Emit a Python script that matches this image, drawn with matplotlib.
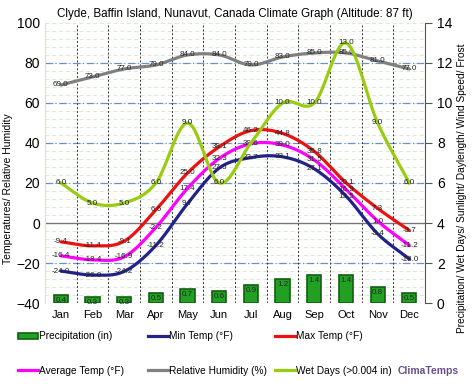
import numpy as np
import matplotlib
matplotlib.use("Agg")
import matplotlib.pyplot as plt
from matplotlib.lines import Line2D
from matplotlib.patches import Patch

months = ['Jan', 'Feb', 'Mar', 'Apr', 'May', 'Jun', 'Jul', 'Aug', 'Sep', 'Oct', 'Nov', 'Dec']
max_temp = [-9.4, -11.4, -9.1, 6.6, 25.0, 38.1, 46.2, 44.8, 35.8, 20.1, 7.3, -3.7]
avg_temp = [-16.4, -18.4, -16.9, -2.2, 17.4, 32.3, 39.6, 39.0, 31.5, 16.9, 1.0, -11.2]
min_temp = [-24.0, -26.0, -24.2, -11.2, 9.7, 27.5, 32.7, 33.1, 27.1, 13.5, -5.4, -18.0]
humidity = [69.0, 73.0, 77.0, 79.0, 84.0, 84.0, 79.0, 83.0, 85.0, 85.0, 81.0, 77.0]
wet_days = [6.0, 5.0, 5.0, 6.0, 9.0, 6.0, 8.0, 10.0, 10.0, 13.0, 9.0, 6.0]
precip = [0.4, 0.3, 0.3, 0.5, 0.7, 0.6, 0.9, 1.2, 1.4, 1.4, 0.8, 0.5]


def smooth(x, y, n=20):
    # catmull-rom spline through the points, just for drawing
    x = np.asarray(x, float)
    y = np.asarray(y, float)
    px = np.concatenate([[2 * x[0] - x[1]], x, [2 * x[-1] - x[-2]]])
    py = np.concatenate([[2 * y[0] - y[1]], y, [2 * y[-1] - y[-2]]])
    xs, ys = [], []
    t = np.linspace(0, 1, n, endpoint=False)
    for i in range(1, len(px) - 2):
        p0, p1, p2, p3 = py[i - 1], py[i], py[i + 1], py[i + 2]
        a = 2 * p1
        b = p2 - p0
        c = 2 * p0 - 5 * p1 + 4 * p2 - p3
        d = -p0 + 3 * p1 - 3 * p2 + p3
        ys.extend(0.5 * (a + b * t + c * t ** 2 + d * t ** 3))
        xs.extend(px[i] + (px[i + 1] - px[i]) * t)
    xs.append(x[-1])
    ys.append(y[-1])
    return np.array(xs), np.array(ys)


plt.rcParams['font.family'] = ['Liberation Sans', 'DejaVu Sans']

fig = plt.figure(figsize=(4.74, 3.89), dpi=100)
ax = fig.add_axes([0.095, 0.221, 0.802, 0.72])
ax2 = ax.twinx()

x = np.arange(12)

# grid
for v in np.arange(-40, 101, 4):
    ax.axhline(v, color='#d8ecd0', lw=0.7, ls=(0, (4, 3)), zorder=0)
for v in [-20, 20, 40, 60, 80]:
    ax.axhline(v, color='#6f8fc8', lw=0.9, ls=(0, (6, 2, 1, 2)), zorder=1)
ax.axhline(0, color='#777777', lw=1.0, zorder=1)
for b in np.arange(0.5, 11.5, 1):
    ax.axvline(b, color='#333333', lw=0.7, ls=(0, (2, 2)), zorder=1)

ax.set_xlim(-0.5, 11.5)
ax.set_ylim(-40, 100)
ax2.set_ylim(0, 14)

# precipitation bars on the right scale
ax2.bar(x, precip, width=0.45, color='#22a022', edgecolor='#106010', lw=1.2, zorder=3)
for xi, p in zip(x, precip):
    ax2.text(xi, p - 0.12, f'{p:.1f}', ha='center', va='top', fontsize=5.8, color='#222222', zorder=5)

series = [
    (humidity, '#808080'),
    (max_temp, '#ee1111'),
    (avg_temp, '#ff00ff'),
    (min_temp, '#22228a'),
]
for vals, col in series:
    sx, sy = smooth(x, vals)
    ax.plot(sx, sy, color=col, lw=2.3, zorder=4, solid_capstyle='round')
    for xi, v in zip(x, vals):
        ax.text(xi, v, f'{v:.1f}', ha='center', va='center', fontsize=5.8, color='#222222', zorder=6)

sx, sy = smooth(x, wet_days)
ax2.plot(sx, sy, color='#99cc11', lw=2.3, zorder=4)
for xi, v in zip(x, wet_days):
    if xi == 6:
        continue
    ax2.text(xi, v, f'{v:.1f}', ha='center', va='center', fontsize=5.8, color='#222222', zorder=6)

ax.set_xticks(x)
ax.set_xticklabels(months, fontsize=8)
ax.set_yticks(np.arange(-40, 101, 20))
ax.tick_params(axis='y', labelsize=10, length=0)
ax.tick_params(axis='x', length=0, pad=5)
ax2.set_yticks(np.arange(0, 15, 2))
ax2.tick_params(axis='y', labelsize=10, length=5, color='#555555', direction='out')

for s in ['top', 'bottom', 'left']:
    ax.spines[s].set_visible(False)
    ax2.spines[s].set_visible(False)
ax.spines['left'].set_visible(True)
ax.spines['left'].set_color('#cfe9c8')
ax.spines['right'].set_visible(False)
ax2.spines['right'].set_color('#555555')

ax.set_ylabel('Temperatures/ Relative Humidity', fontsize=7.5)
ax.yaxis.set_label_coords(-0.085, 0.41)
ax2.set_ylabel('Precipitation/ Wet Days/ Sunlight/ Daylength/ Wind Speed/ Frost', fontsize=7.3)
ax2.yaxis.set_label_coords(1.085, 0.41)
ax.set_title('Clyde, Baffin Island, Nunavut, Canada Climate Graph (Altitude: 87 ft)', fontsize=8.4, pad=4)

# one legend per column so the columns sit where the reference has them
columns = [
    (18, [Patch(facecolor='#22a022', edgecolor='#106010', lw=1.2), Line2D([], [], color='#ff00ff', lw=2.3)],
     ['Precipitation (in)', 'Average Temp (°F)']),
    (148, [Line2D([], [], color='#22228a', lw=2.3), Line2D([], [], color='#808080', lw=2.3)],
     ['Min Temp (°F)', 'Relative Humidity (%)']),
    (275, [Line2D([], [], color='#ee1111', lw=2.3), Line2D([], [], color='#99cc11', lw=2.3)],
     ['Max Temp (°F)', 'Wet Days (>0.004 in)']),
]
for px, hs, ls in columns:
    leg = fig.legend(hs, ls, loc='center left', bbox_to_anchor=(px / 474, 1 - 353.5 / 389),
                     frameon=False, fontsize=7.3, handlelength=2.0, handletextpad=0.1,
                     labelspacing=2.4, handleheight=0.6, borderpad=0, borderaxespad=0)

fig.text(398 / 474, 1 - 371 / 389, 'ClimaTemps', fontsize=7.5, color='#6a4f8a',
         fontweight='bold', va='center')

fig.savefig('out.png', dpi=100)
